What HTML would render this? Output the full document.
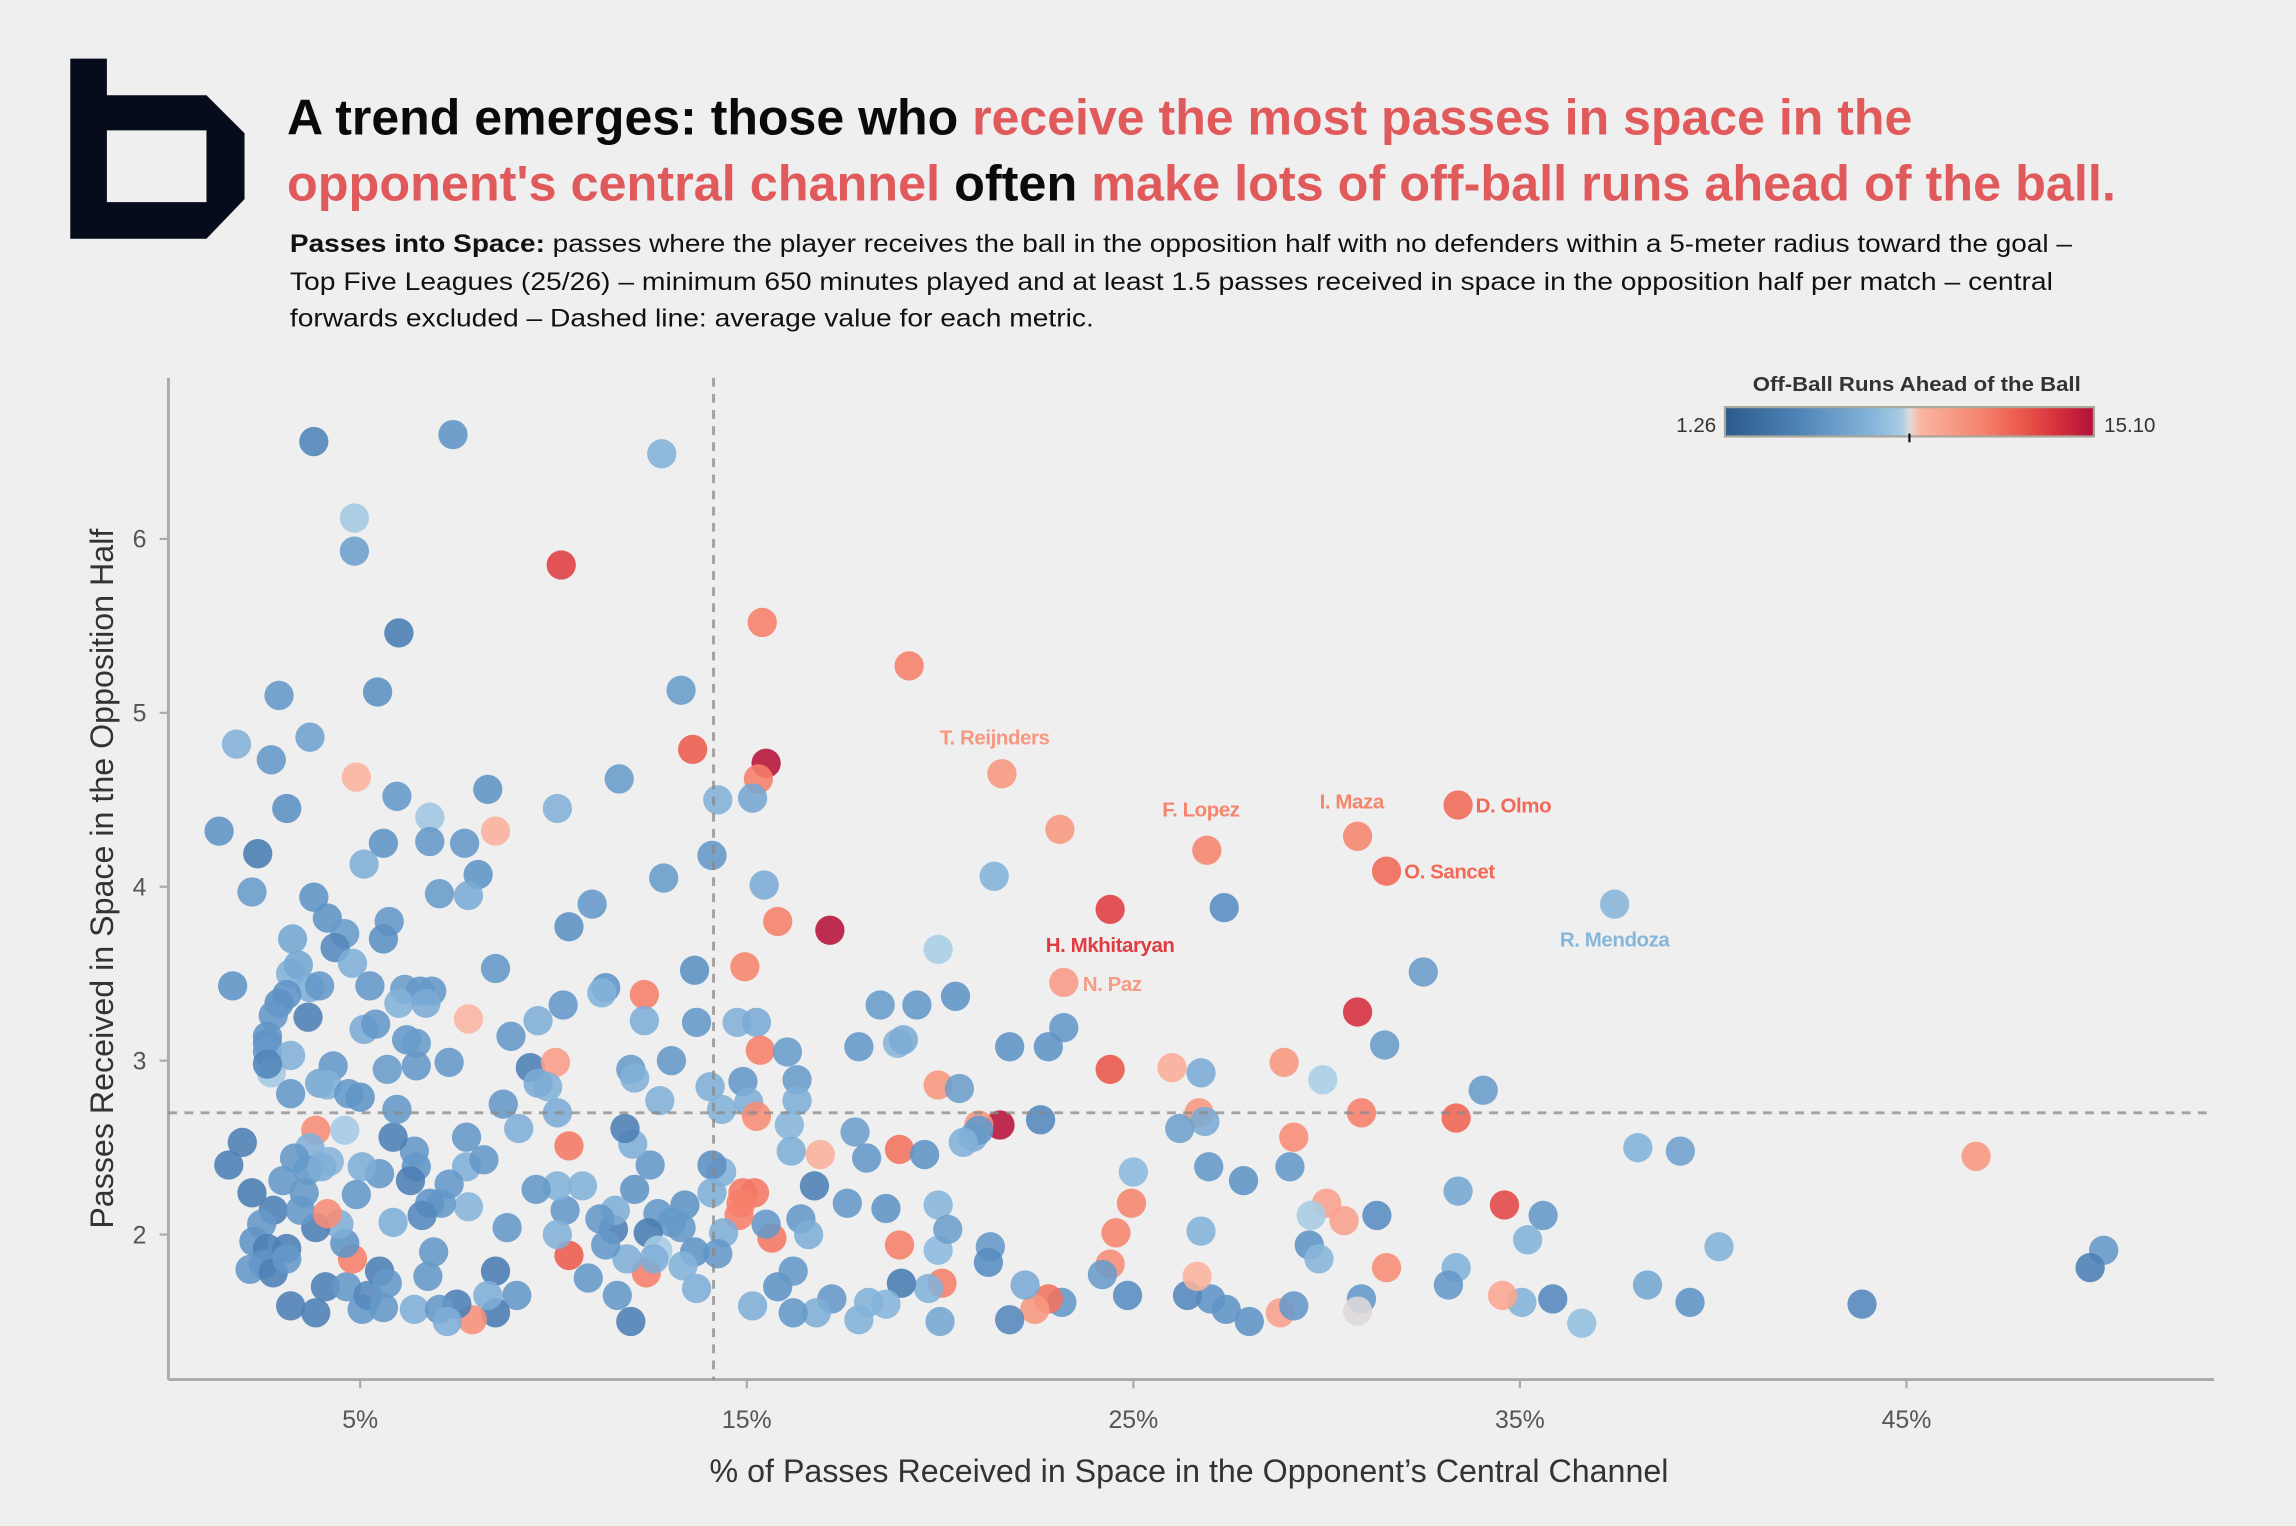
<!DOCTYPE html>
<html><head><meta charset="utf-8">
<style>
html,body{margin:0;padding:0;background:#efefef;}
svg{display:block;}
text{font-family:"Liberation Sans Narrow","Liberation Sans",sans-serif;}
</style></head>
<body>
<svg id="chart" xmlns="http://www.w3.org/2000/svg" width="2296" height="1526" viewBox="0 0 1568 1042" preserveAspectRatio="none">
<rect x="0" y="0" width="1568" height="1042" fill="#efefef"/>
<path fill="#070c1c" fill-rule="evenodd"
 d="M48 40 H73 V65 H141 L167 91 V136 L141 163 H48 Z M73 89 V138 H141 V89 Z"/>
<text x="196" y="92" font-size="34" font-weight="bold" fill="#0a0a0a" textLength="1110" lengthAdjust="spacingAndGlyphs">A trend emerges: those who <tspan fill="#e05a5c">receive the most passes in space in the</tspan></text>
<text x="196" y="137" font-size="34" font-weight="bold" fill="#e05a5c" textLength="1249" lengthAdjust="spacingAndGlyphs">opponent's central channel <tspan fill="#0a0a0a">often</tspan> make lots of off-ball runs ahead of the ball.</text>
<text x="198" y="172" font-size="17" fill="#111" textLength="1217" lengthAdjust="spacingAndGlyphs"><tspan font-weight="bold">Passes into Space:</tspan> passes where the player receives the ball in the opposition half with no defenders within a 5-meter radius toward the goal –</text>
<text x="198" y="198" font-size="17" fill="#111" textLength="1204" lengthAdjust="spacingAndGlyphs">Top Five Leagues (25/26) – minimum 650 minutes played and at least 1.5 passes received in space in the opposition half per match – central</text>
<text x="198" y="223" font-size="17" fill="#111" textLength="549" lengthAdjust="spacingAndGlyphs">forwards excluded – Dashed line: average value for each metric.</text>

<defs>
<linearGradient id="cgrad" x1="0" x2="1" y1="0" y2="0">
<stop offset="0" stop-color="#2c5a8c"/><stop offset="0.2" stop-color="#4f84b6"/><stop offset="0.4" stop-color="#86b5d9"/>
<stop offset="0.48" stop-color="#a8cce4"/><stop offset="0.5" stop-color="#dedcdc"/><stop offset="0.53" stop-color="#fbb5a0"/>
<stop offset="0.7" stop-color="#f4826b"/><stop offset="0.8" stop-color="#ec5a4c"/><stop offset="0.9" stop-color="#d7303d"/><stop offset="1" stop-color="#b0103a"/>
</linearGradient>
</defs>
<g>
<text x="1309" y="267" font-size="14" font-weight="bold" fill="#333" text-anchor="middle" font-family="Liberation Sans, sans-serif" textLength="224" lengthAdjust="spacingAndGlyphs">Off-Ball Runs Ahead of the Ball</text>
<rect x="1178" y="278" width="252" height="20" fill="url(#cgrad)" stroke="#aaa59a" stroke-width="1.5"/>
<line x1="1304" y1="296" x2="1304" y2="302" stroke="#111" stroke-width="1.5"/>
<text x="1172" y="295" font-size="14" fill="#333" text-anchor="end" font-family="Liberation Sans, sans-serif">1.26</text>
<text x="1437" y="295" font-size="14" fill="#333" font-family="Liberation Sans, sans-serif">15.10</text>
</g>
<g id="plot"></g>
</svg>
<script>
const xVals=[3.8,7.4,12.8,4.85,4.85,10.2,6.0,15.4,19.2,2.9,5.45,13.3,1.8,3.7,2.7,4.9,13.6,15.5,15.3,21.6,
3.1,5.95,8.3,10.1,11.7,15.15,14.25,1.35,2.35,2.2,5.6,6.8,6.8,7.7,8.5,5.1,7.05,8.05,7.8,12.85,
14.1,15.45,23.1,21.4,26.9,30.8,33.4,31.55,37.45,27.35,24.4,17.15,15.8,10.4,11.0,3.8,4.15,4.6,5.75,3.25,
4.35,5.6,1.7,3.2,3.4,4.8,3.7,3.1,3.95,5.25,6.15,6.55,6.85,8.5,11.35,11.25,12.35,13.65,14.95,19.95,
20.4,23.2,32.5,30.8,2.9,2.75,3.65,6.0,6.7,5.1,2.6,2.6,5.4,6.2,6.45,7.8,8.9,9.6,10.25,12.35,
13.7,14.75,15.25,18.45,19.4,18.9,19.05,17.9,23.2,21.8,22.8,31.5,15.35,16.05,2.6,2.7,3.2,2.6,3.2,4.3,
3.95,4.15,4.7,5.0,5.7,6.45,7.3,9.4,10.05,9.85,9.6,8.7,9.1,10.1,12.0,13.05,12.1,12.75,14.05,14.35,
14.9,15.05,15.25,16.3,16.3,16.1,19.95,20.5,24.4,26.0,26.75,28.9,29.9,34.05,30.9,33.35,26.7,26.85,21.55,21.0,
20.85,21.0,22.6,26.2,20.6,16.9,17.8,18.95,19.6,18.1,16.15,16.75,17.6,18.6,19.95,26.95,25.0,29.05,27.85,29.15,
38.05,39.15,46.8,34.6,33.4,35.6,31.3,30.0,30.45,29.6,24.95,24.55,26.75,35.2,40.15,50.1,49.75,29.55,29.8,31.55,
33.35,33.15,38.3,35.05,35.85,34.55,36.6,39.4,43.85,30.9,30.8,28.8,29.15,28.0,27.4,27.0,26.4,26.65,24.85,24.4,
24.2,23.15,22.8,22.45,22.2,21.8,21.3,21.25,19.95,20.2,20.05,20.0,19.7,18.95,19.0,18.6,17.9,18.15,17.2,16.8,
16.2,15.8,16.2,16.4,16.6,15.65,15.5,15.15,14.8,14.9,15.2,14.85,14.4,14.35,14.1,14.1,14.25,13.65,13.7,13.35,
13.4,13.3,13.05,12.5,12.1,12.05,11.85,12.7,12.45,12.4,12.7,12.6,12.0,11.65,11.9,11.55,11.35,11.6,11.2,10.9,
10.4,10.3,10.1,10.4,10.75,10.1,9.55,8.8,9.05,8.5,8.5,8.3,7.9,7.5,7.8,7.75,7.75,8.2,7.3,7.1,
6.8,6.45,6.4,6.3,5.85,5.95,5.5,5.05,4.6,3.85,3.7,4.2,3.65,4.0,3.3,3.0,1.6,1.95,2.2,2.75,
2.45,2.25,2.6,3.1,2.5,2.15,2.75,3.1,3.2,3.85,4.1,4.65,4.8,4.6,4.45,3.85,3.45,3.55,4.15,4.9,
5.05,5.2,5.5,5.7,5.85,5.6,6.4,6.75,6.9,6.6,7.05,7.25];
const yVals=[6.56,6.6,6.49,6.12,5.93,5.85,5.46,5.52,5.27,5.1,5.12,5.13,4.82,4.86,4.73,4.63,4.79,4.71,4.62,4.65,
4.45,4.52,4.56,4.45,4.62,4.51,4.5,4.32,4.19,3.97,4.25,4.4,4.26,4.25,4.32,4.13,3.96,4.07,3.95,4.05,
4.18,4.01,4.33,4.06,4.21,4.29,4.47,4.09,3.9,3.88,3.87,3.75,3.8,3.77,3.9,3.94,3.82,3.73,3.8,3.7,
3.65,3.7,3.43,3.5,3.55,3.56,3.42,3.38,3.43,3.43,3.41,3.4,3.4,3.53,3.42,3.39,3.38,3.52,3.54,3.64,
3.37,3.45,3.51,3.28,3.33,3.26,3.25,3.33,3.33,3.18,3.14,3.1,3.21,3.12,3.1,3.24,3.14,3.23,3.32,3.23,
3.22,3.22,3.22,3.32,3.32,3.1,3.12,3.08,3.19,3.08,3.08,3.09,3.06,3.05,3.05,2.93,3.03,2.98,2.81,2.97,
2.87,2.86,2.81,2.79,2.95,2.97,2.99,2.96,2.99,2.85,2.87,2.75,2.61,2.7,2.95,3.0,2.9,2.77,2.85,2.72,
2.88,2.76,2.68,2.89,2.77,2.63,2.86,2.84,2.95,2.96,2.93,2.99,2.89,2.83,2.7,2.67,2.7,2.65,2.63,2.63,
2.56,2.6,2.66,2.61,2.53,2.46,2.59,2.49,2.46,2.44,2.48,2.28,2.18,2.15,2.17,2.39,2.36,2.39,2.31,2.56,
2.5,2.48,2.45,2.17,2.25,2.11,2.11,2.18,2.08,2.11,2.18,2.01,2.02,1.97,1.93,1.91,1.81,1.94,1.86,1.81,
1.81,1.71,1.71,1.61,1.63,1.65,1.49,1.61,1.6,1.63,1.56,1.55,1.59,1.5,1.57,1.63,1.65,1.76,1.65,1.83,
1.77,1.61,1.63,1.57,1.71,1.51,1.93,1.84,1.91,2.03,1.72,1.5,1.69,1.94,1.72,1.6,1.51,1.61,1.63,1.55,
1.55,1.7,1.79,2.09,2.0,1.98,2.06,1.59,2.11,2.24,2.24,2.18,2.01,2.36,2.4,2.24,1.89,1.9,1.69,1.82,
2.17,2.04,2.07,2.4,2.26,2.52,2.61,2.12,2.01,1.78,1.91,1.86,1.5,1.65,1.86,2.03,1.94,2.14,2.09,1.75,
1.88,2.14,2.28,2.51,2.28,2.0,2.26,2.04,1.65,1.79,1.55,1.65,1.51,1.6,2.16,2.56,2.39,2.43,2.29,2.18,
2.18,2.39,2.48,2.31,2.56,2.72,2.35,2.39,2.6,2.6,2.5,2.42,2.37,2.39,2.44,2.31,2.4,2.53,2.24,2.14,
2.06,1.96,1.92,1.92,1.83,1.8,1.78,1.86,1.59,1.55,1.7,1.7,1.86,1.95,2.06,2.04,2.14,2.24,2.12,2.23,
1.57,1.65,1.79,1.72,2.07,1.58,1.57,1.76,1.9,2.11,1.57,1.5];
const runVals=[3.2,4.2,6.3,7.6,5,13.3,2.8,11,11,4.5,4,4.8,6.2,5.2,4.5,8.7,12.3,15,11,10,
4,4.5,4.2,6.2,4.8,5.5,6.2,4.2,2.8,4.8,4.2,7.5,4.5,4.5,8.8,6,4.8,4.2,5.8,4.8,
4.5,5.8,10,6.3,10.8,10.8,11.8,11.8,6.5,3.8,13.3,15,11,4,4.5,4.2,4.2,4.8,4.5,5.5,
3.5,4,4.2,6.2,5.5,6,6,4.2,4.5,4.5,4.8,4.5,4.5,4.5,4.2,6.3,11,4,10.8,7.9,
4.2,9.8,4.8,13.8,4,4.5,3,6.3,5.8,5.8,4.2,4.2,4.5,4.5,4.8,8.6,4.5,6,4.5,6,
4.5,6.2,5.8,4.8,4.5,6.5,5.8,4.5,4.5,4.2,4.2,4.8,11,4.8,4.5,7.6,6.2,3.3,4.5,4.5,
5.5,6.2,4.5,4.2,4.8,4.5,4.5,3,9.7,6.3,5.8,4.5,6,5.8,4.8,4.5,6.2,6.2,6,6.3,
4.5,6,10.5,4.8,6,6.5,10,5,12.5,9,5.8,10,7.9,4.8,11,12,10,5.8,15,10,
6,4.5,3.5,5.2,6.2,8.8,5,11.5,4.2,4.5,6,3,4.5,4.2,6.5,4.5,6.8,4.5,4.2,10.5,
6.3,5.2,10,13,5.5,4.5,3.8,9.5,9.5,7.8,10.8,10.8,6.3,6.3,6.3,4.5,3,4.2,6.5,10.5,
6.3,4.5,5.5,6.3,3.5,9.3,7,4.2,3.5,4.5,8.2,9.5,4.5,4.2,4.2,4.2,3.5,8.7,3.8,10.5,
4.8,4.5,11.5,10,5.8,3.5,4.5,3.8,6.8,5,11,5.5,6.3,11,2.8,6.5,6.3,6.3,4.5,6,
4.5,4.2,4.5,4.5,6,11.3,4.5,6,11,11.3,11.3,11,6,6.3,4,6,4.5,4.2,6,6.3,
4.2,4.5,4.5,4.5,4.2,6,3,4.5,2.8,11,7.8,6,3,4.5,6,3,4.5,6,4.5,4.5,
12.3,4.5,6.3,11.3,6.3,6.2,4.5,4.5,4.5,2.8,2.8,6,10.3,3,6.5,4.5,6,4.5,4.5,4.5,
4.2,4.2,4.5,3,3,4.5,4.5,6,7.7,10.5,6.2,6.5,4.5,6,4.5,4.5,3,3,2.8,3,
4.5,4.2,3,3,4.2,4.5,3,4.5,3,3,3,4.5,11,4.2,6,3,4.5,4.5,10.5,4.5,
4.5,3.5,3,4.5,6,4.5,6,4.5,4.5,3.5,4.5,6];
const labelNames=["T. Reijnders","F. Lopez","I. Maza","D. Olmo","O. Sancet","R. Mendoza","H. Mkhitaryan","N. Paz"];
const labelIndex=[19,44,45,46,47,48,50,81];
const xTicks=[5,15,25,35,45];
const yTicks=[2,3,4,5,6];
const avgX=14.14, avgY=2.70;

const NS="http://www.w3.org/2000/svg";
const plot=document.getElementById('plot');
const X0=115,X1=1512,Y0=942,Y1=258;
function sx(v){return 114+v*26.4;}
function sy(v){return 843-(v-2)*118.75;}
const stops=[[0,[50,100,155]],[0.2,[92,145,196]],[0.4,[140,186,222]],[0.48,[170,206,230]],[0.5,[222,220,220]],[0.53,[251,181,160]],[0.7,[246,130,107]],[0.8,[238,90,76]],[0.9,[217,48,61]],[1,[180,16,58]]];
function color(v){
  let t=(v-1.26)/(15.10-1.26);t=Math.max(0,Math.min(1,t));
  for(let i=1;i<stops.length;i++){if(t<=stops[i][0]){const a=stops[i-1],b=stops[i];const f=(t-a[0])/(b[0]-a[0]);
    const c=a[1].map((q,k)=>Math.round(q+(b[1][k]-q)*f));return 'rgb('+c.join(',')+')';}}
  return 'rgb(180,16,58)';
}
function mk(tag,attrs){const e=document.createElementNS(NS,tag);for(const k in attrs)e.setAttribute(k,attrs[k]);plot.appendChild(e);return e;}

let e;
e=mk('line',{x1:X0,y1:Y1,x2:X0,y2:Y0,stroke:'#aaa','stroke-width':2});


e=mk('line',{x1:X0,y1:Y0,x2:X1,y2:Y0,stroke:'#aaa','stroke-width':2});


xTicks.forEach(v=>{
  e=mk('line',{x1:sx(v),y1:Y0,x2:sx(v),y2:Y0+6,stroke:'#aaa','stroke-width':1.5});
  
  
  e=mk('text',{x:sx(v),y:Y0+33,'font-size':17,fill:'#555','text-anchor':'middle','font-family':'Liberation Sans, sans-serif'});
  e.textContent=v+'%';
  
  
});
yTicks.forEach(v=>{
  e=mk('line',{x1:X0-6,y1:sy(v),x2:X0,y2:sy(v),stroke:'#aaa','stroke-width':1.5});
  
  
  e=mk('text',{x:X0-15,y:sy(v)+6,'font-size':17,fill:'#555','text-anchor':'end','font-family':'Liberation Sans, sans-serif'});
  e.textContent=v;
  
  
});
e=mk('text',{x:812,y:1012,'font-size':22,fill:'#333','text-anchor':'middle','font-family':'Liberation Sans, sans-serif'});
e.textContent='% of Passes Received in Space in the Opponent’s Central Channel';


e=mk('text',{x:0,y:0,'font-size':22,fill:'#333','text-anchor':'middle','font-family':'Liberation Sans, sans-serif',transform:'translate(77,600) rotate(-90)'});
e.textContent='Passes Received in Space in the Opposition Half';



for(let i=0;i<xVals.length;i++){
  e=mk('circle',{cx:sx(xVals[i]),cy:sy(yVals[i]),r:10,fill:color(runVals[i]),'fill-opacity':0.88});
  
  
}
e=mk('line',{x1:sx(avgX),y1:Y1,x2:sx(avgX),y2:Y0,stroke:'#888','stroke-opacity':0.75,'stroke-width':2,'stroke-dasharray':'6,5'});


e=mk('line',{x1:X0,y1:sy(avgY),x2:X1,y2:sy(avgY),stroke:'#888','stroke-opacity':0.75,'stroke-width':2,'stroke-dasharray':'6,5'});



const place={"T. Reijnders":[-5,-20,'middle'],"F. Lopez":[-4,-23,'middle'],"I. Maza":[-4,-19,'middle'],"D. Olmo":[12,5,'start'],"O. Sancet":[12,5,'start'],"R. Mendoza":[0,29,'middle'],"H. Mkhitaryan":[0,29,'middle'],"N. Paz":[13,6,'start']};
labelNames.forEach((n,k)=>{
  const i=labelIndex[k];const p=place[n];
  e=mk('text',{x:sx(xVals[i])+p[0],y:sy(yVals[i])+p[1],'font-size':14,'font-weight':'bold',fill:color(runVals[i]),'text-anchor':p[2],'font-family':'Liberation Sans, sans-serif','letter-spacing':'-0.3'});
  e.textContent=n;
  
  
});
</script>
</body></html>
